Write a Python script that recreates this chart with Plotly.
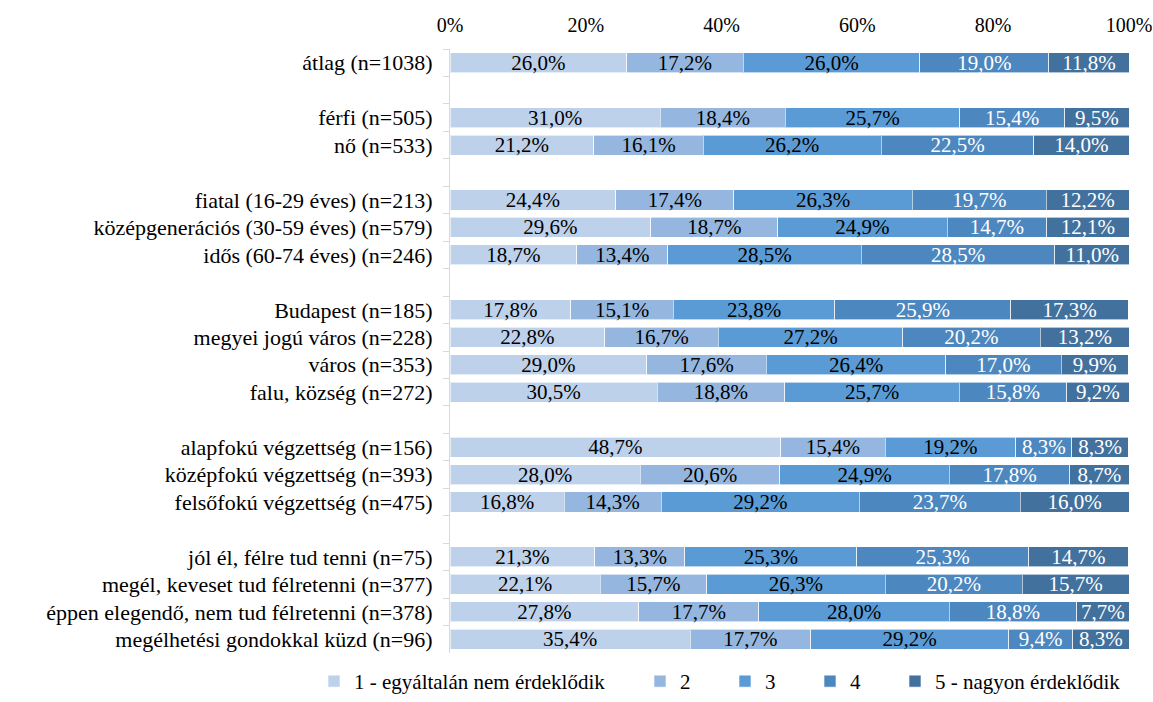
import plotly.graph_objects as go

categories = [
    "átlag (n=1038)", " ",
    "férfi (n=505)", "nő (n=533)", "  ",
    "fiatal (16-29 éves) (n=213)", "középgenerációs (30-59 éves) (n=579)", "idős (60-74 éves) (n=246)", "   ",
    "Budapest (n=185)", "megyei jogú város (n=228)", "város (n=353)", "falu, község (n=272)", "    ",
    "alapfokú végzettség (n=156)", "középfokú végzettség (n=393)", "felsőfokú végzettség (n=475)", "     ",
    "jól él, félre tud tenni (n=75)", "megél, keveset tud félretenni (n=377)",
    "éppen elegendő, nem tud félretenni (n=378)", "megélhetési gondokkal küzd (n=96)",
]

series_names = ["1 - egyáltalán nem érdeklődik", "2", "3", "4", "5 - nagyon érdeklődik"]

s1 = [26.0, None, 31.0, 21.2, None, 24.4, 29.6, 18.7, None, 17.8, 22.8, 29.0, 30.5, None, 48.7, 28.0, 16.8, None, 21.3, 22.1, 27.8, 35.4]
s2 = [17.2, None, 18.4, 16.1, None, 17.4, 18.7, 13.4, None, 15.1, 16.7, 17.6, 18.8, None, 15.4, 20.6, 14.3, None, 13.3, 15.7, 17.7, 17.7]
s3 = [26.0, None, 25.7, 26.2, None, 26.3, 24.9, 28.5, None, 23.8, 27.2, 26.4, 25.7, None, 19.2, 24.9, 29.2, None, 25.3, 26.3, 28.0, 29.2]
s4 = [19.0, None, 15.4, 22.5, None, 19.7, 14.7, 28.5, None, 25.9, 20.2, 17.0, 15.8, None, 8.3, 17.8, 23.7, None, 25.3, 20.2, 18.8, 9.4]
s5 = [11.8, None, 9.5, 14.0, None, 12.2, 12.1, 11.0, None, 17.3, 13.2, 9.9, 9.2, None, 8.3, 8.7, 16.0, None, 14.7, 15.7, 7.7, 8.3]

colors = ["#BDD1EA", "#95B7DF", "#5B9BD5", "#4D87BF", "#42719E"]
text_colors = ["black", "black", "black", "white", "white"]

# left edge (px) of each series' legend entry
legend_x = [314, 640, 725, 810, 895]

FONT = "Liberation Serif"
W, H = 1153, 702

def fmt(v):
    return "" if v is None else f"{v:.1f}".replace(".", ",") + "%"

fig = go.Figure()
legend_layouts = {}
for i, (name, vals, col, tcol) in enumerate(zip(series_names, [s1, s2, s3, s4, s5], colors, text_colors)):
    lg = "legend" if i == 0 else f"legend{i + 1}"
    fig.add_trace(go.Bar(
        y=categories, x=vals, name=name, orientation="h",
        marker=dict(color=col, line=dict(color="rgba(255,255,255,0.6)", width=1)),
        text=[fmt(v) for v in vals], textposition="inside",
        insidetextanchor="middle", textangle=0,
        textfont=dict(family=FONT, size=21, color=tcol),
        hoverinfo="skip",
        legend=lg,
    ))
    legend_layouts[lg] = dict(
        orientation="h", xref="container", x=legend_x[i] / W, xanchor="left",
        yref="container", y=0, yanchor="bottom",
        font=dict(family=FONT, size=21, color="black"),
        bgcolor="rgba(0,0,0,0)",
    )

fig.update_layout(
    barmode="stack",
    bargap=0.27,
    width=W, height=H,
    margin=dict(l=450, r=24, t=49, b=49, autoexpand=False),
    paper_bgcolor="white", plot_bgcolor="white",
    font=dict(family=FONT, size=20, color="black"),
    uniformtext=dict(minsize=21, mode="show"),
    showlegend=True,
    xaxis=dict(
        side="top", range=[0, 100], tickvals=[0, 20, 40, 60, 80, 100],
        ticktext=["0%", "20%", "40%", "60%", "80%", "100%"],
        showgrid=False, zeroline=False, showline=False, ticks="",
        ticklabelstandoff=12,
        tickfont=dict(family=FONT, size=20, color="black"),
    ),
    yaxis=dict(
        autorange="reversed", type="category",
        tickmode="linear", tick0=0, dtick=1,
        showgrid=False, zeroline=False,
        showline=True, linecolor="#D9D9D9", linewidth=1,
        ticks="outside", tickson="boundaries", ticklen=6, tickcolor="#D9D9D9",
        ticklabelstandoff=12,
        tickfont=dict(family=FONT, size=22, color="black"),
    ),
    **legend_layouts,
)

fig.write_html("out.html", config={"displayModeBar": False},
               post_script="document.body.style.margin='0';")
